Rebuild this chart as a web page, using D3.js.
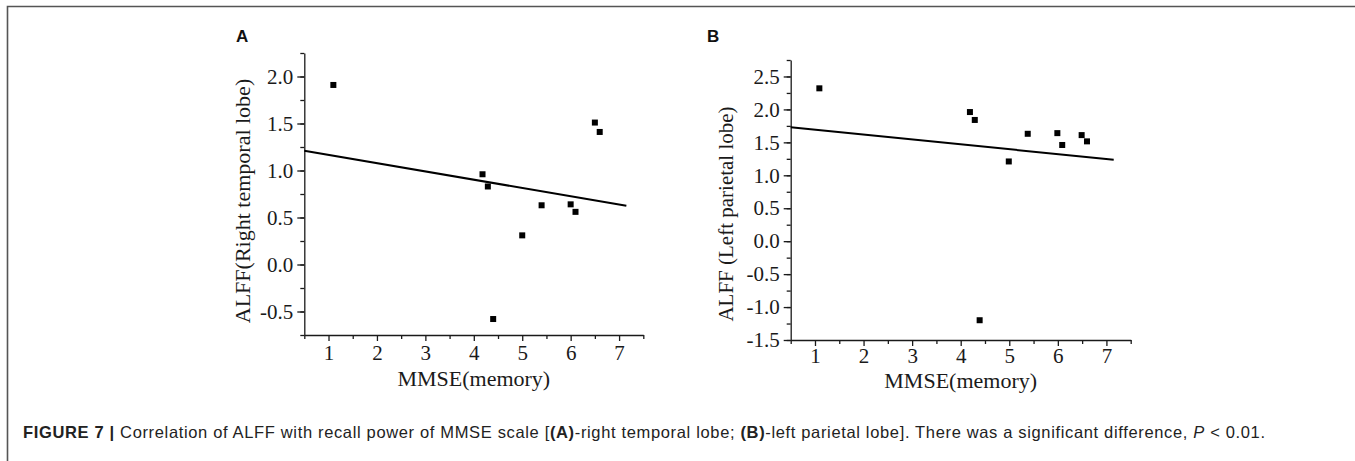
<!DOCTYPE html>
<html>
<head>
<meta charset="utf-8">
<script src="https://cdn.jsdelivr.net/npm/d3@7"></script>
<style>
  body { margin: 0; background: #fff; }
  .tick text { font-family: "Liberation Serif", "Times New Roman", serif; font-size: 21px; fill: #1a1a1a; }
  .axis path, .axis line { stroke: #1a1a1a; stroke-width: 1.3px; }
  .ax-title { font-family: "Liberation Serif", "Times New Roman", serif; fill: #1a1a1a; }
  .panel-label { font-family: "Liberation Sans", Arial, sans-serif; font-weight: bold; font-size: 17px; fill: #111; }
  .caption { font-family: "Liberation Sans", Arial, sans-serif; font-size: 16.5px; fill: #222; }
</style>
</head>
<body>
<div id="visualization"></div>
<script>
// data
var mmseA = [1.1, 4.18, 4.29, 4.4, 5.0, 5.4, 6.0, 6.1, 6.5, 6.6];
var alffA = [1.91, 0.96, 0.83, -0.58, 0.31, 0.63, 0.64, 0.56, 1.51, 1.41];
var fitA_x = [0.5, 7.15];
var fitA_y = [1.21, 0.625];

var mmseB = [1.09, 4.19, 4.29, 4.39, 4.99, 5.38, 5.99, 6.09, 6.49, 6.6];
var alffB = [2.32, 1.96, 1.84, -1.2, 1.21, 1.63, 1.64, 1.46, 1.61, 1.515];
var fitB_x = [0.5, 7.15];
var fitB_y = [1.73, 1.236];

var xTicks = [1, 2, 3, 4, 5, 6, 7];
var yTicksA = [-0.5, 0.0, 0.5, 1.0, 1.5, 2.0];
var yTicksB = [-1.5, -1.0, -0.5, 0.0, 0.5, 1.0, 1.5, 2.0, 2.5];

var W = 1355, H = 461;

var svg = d3.select("#visualization")
    .append("svg")
    .attr("width", W)
    .attr("height", H);

// page frame (top and left rules)
svg.append("path")
    .attr("d", "M" + W + ",6.5H7.5V" + H)
    .attr("fill", "none")
    .attr("stroke", "#555")
    .attr("stroke-width", 1.6);

var fmtY = function (d) { return d3.format(".1f")(d).replace("\u2212", "-"); };

function drawPanel(opt) {
    var x = d3.scaleLinear().domain([0.5, 7.5]).range([opt.left, opt.right]);
    var y = d3.scaleLinear().domain(opt.yDomain).range([opt.bottom, opt.top]);

    var g = svg.append("g").attr("class", "panel");

    // minor ticks
    g.append("g")
        .attr("class", "axis")
        .attr("transform", "translate(0," + opt.bottom + ")")
        .call(d3.axisBottom(x).tickValues(d3.range(0.5, 7.51, 1)).tickSize(4).tickFormat(""))
        .select(".domain").remove();
    g.append("g")
        .attr("class", "axis")
        .attr("transform", "translate(" + opt.left + ",0)")
        .call(d3.axisLeft(y).tickValues(opt.yMinor).tickSize(4).tickFormat(""))
        .select(".domain").remove();

    // major axes
    g.append("g")
        .attr("class", "axis")
        .attr("transform", "translate(0," + opt.bottom + ")")
        .call(d3.axisBottom(x).tickValues(xTicks).tickSizeInner(6).tickSizeOuter(0).tickPadding(opt.xPad).tickFormat(d3.format("d")));
    g.append("g")
        .attr("class", "axis")
        .attr("transform", "translate(" + opt.left + ",0)")
        .call(d3.axisLeft(y).tickValues(opt.yTicks).tickSizeInner(7).tickSizeOuter(0).tickPadding(4).tickFormat(fmtY));

    // fit line
    var fit = opt.fitX.map(function (v, i) { return [v, opt.fitY[i]]; });
    g.append("path")
        .datum(fit)
        .attr("fill", "none")
        .attr("stroke", "#000")
        .attr("stroke-width", 2)
        .attr("d", d3.line().x(function (d) { return x(d[0]); }).y(function (d) { return y(d[1]); }));

    // points
    var pts = opt.xs.map(function (v, i) { return [v, opt.ys[i]]; });
    var s = 6;
    g.selectAll("rect.pt")
        .data(pts)
        .enter().append("rect")
        .attr("class", "pt")
        .attr("x", function (d) { return x(d[0]) - s / 2; })
        .attr("y", function (d) { return y(d[1]) - s / 2; })
        .attr("width", s)
        .attr("height", s)
        .attr("fill", "#000");

    // axis titles
    g.append("text")
        .attr("class", "ax-title")
        .attr("x", (opt.left + opt.right) / 2)
        .attr("y", opt.xTitleY)
        .attr("text-anchor", "middle")
        .style("font-size", "22px")
        .text("MMSE(memory)");

    g.append("text")
        .attr("class", "ax-title")
        .attr("transform", "translate(" + opt.yTitleX + "," + opt.yTitleY + ") rotate(-90)")
        .attr("text-anchor", "middle")
        .style("font-size", opt.yTitleSize + "px")
        .text(opt.yTitle);

    g.append("text")
        .attr("class", "panel-label")
        .attr("x", opt.labelX)
        .attr("y", 42)
        .text(opt.label);
}

drawPanel({
    left: 304.3, right: 643.3, top: 53, bottom: 335,
    yDomain: [-0.75, 2.25], yTicks: yTicksA, yMinor: d3.range(-0.75, 2.26, 0.25),
    xs: mmseA, ys: alffA, fitX: fitA_x, fitY: fitA_y,
    xPad: 4, xTitleY: 386,
    yTitle: "ALFF(Right temporal lobe)", yTitleX: 250, yTitleY: 201, yTitleSize: 22,
    label: "A", labelX: 236
});

drawPanel({
    left: 790.7, right: 1130.7, top: 60, bottom: 340,
    yDomain: [-1.5, 2.75], yTicks: yTicksB, yMinor: d3.range(-1.5, 2.76, 0.25),
    xs: mmseB, ys: alffB, fitX: fitB_x, fitY: fitB_y,
    xPad: 2, xTitleY: 388,
    yTitle: "ALFF (Left parietal lobe)", yTitleX: 733, yTitleY: 214, yTitleSize: 21,
    label: "B", labelX: 707
});

// caption
var cap = svg.append("text")
    .attr("class", "caption")
    .attr("x", 23)
    .attr("y", 438)
    .attr("textLength", 1242)
    .attr("lengthAdjust", "spacing");
cap.append("tspan").style("font-weight", "bold").text("FIGURE 7 | ");
cap.append("tspan").text("Correlation of ALFF with recall power of MMSE scale [");
cap.append("tspan").style("font-weight", "bold").text("(A)");
cap.append("tspan").text("-right temporal lobe; ");
cap.append("tspan").style("font-weight", "bold").text("(B)");
cap.append("tspan").text("-left parietal lobe]. There was a significant difference, ");
cap.append("tspan").style("font-style", "italic").text("P");
cap.append("tspan").text(" < 0.01.");
</script>
</body>
</html>
